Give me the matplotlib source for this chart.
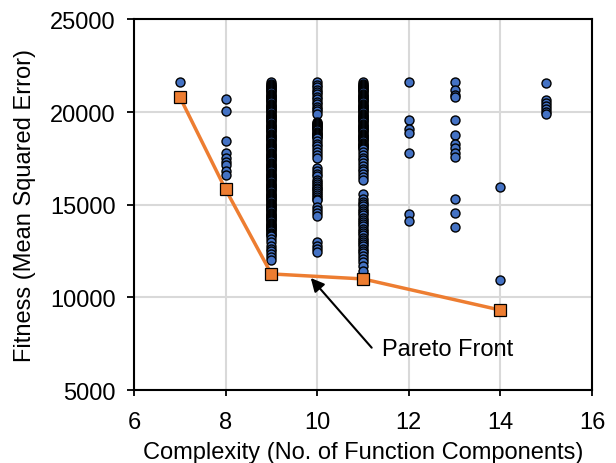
import numpy as np
import matplotlib
matplotlib.use("Agg")
import matplotlib.pyplot as plt

plt.rcParams['font.family'] = ['Liberation Sans', 'DejaVu Sans']

# fitness (MSE) of every candidate, grouped by complexity
mse_c7 = [21650]
mse_c8 = [20700, 20050, 18450, 17800, 17500, 17330, 17120, 16800, 16600]
mse_c9 = [21600, 21540, 21480, 21420, 21360, 21300, 21240, 21180, 21120, 21060,
          21000, 20940, 20880, 20820, 20760, 20700, 20640, 20580, 20520, 20460,
          20400, 20340, 20280, 20220, 20160, 20100, 20040, 19980, 19920, 19860,
          19800, 19740, 19680, 19620, 19560, 19500, 19440, 19380, 19320, 19260,
          19200, 19140, 19080, 19020, 18960, 18900, 18840, 18780, 18720, 18660,
          18600, 18540, 18480, 18420, 18360, 18300, 18240, 18180, 18120, 18060,
          18000, 17940, 17880, 17820, 17760, 17700, 17640, 17580, 17520, 17460,
          17400, 17340, 17280, 17220, 17160, 17100, 17040, 16980, 16920, 16860,
          16800, 16740, 16680, 16620, 16560, 16500, 16440, 16380, 16320, 16260,
          16200, 16140, 16080, 16020, 15960, 15900, 15840, 15780, 15720, 15660,
          15600, 15540, 15480, 15420, 15360, 15300, 15240, 15180, 15120, 15060,
          15000, 14940, 14880, 14820, 14760, 14700, 14640, 14580, 14520, 14460,
          14400, 14340, 14280, 14220, 14160, 14100, 14040, 13980, 13920, 13860,
          13800, 13740, 13680, 13620, 13560, 13500, 13440, 13380, 13320,
          13150, 12980, 12800, 12640, 12480, 12320, 12160, 12000]
mse_c10 = [21600, 21470, 21340, 21210, 21080, 20950, 20820, 20690, 20560, 20430,
           20300, 20170, 20040, 19900, 19490, 19430, 19370, 19310, 19250, 19190,
           19130, 19070, 19010, 18950, 18890, 18830, 18770, 18710, 18650, 18590,
           18450, 18300, 18150, 18000, 17850, 17700, 17550, 16960, 16820, 16680,
           16540, 16330, 16230, 16130, 16030, 15930, 15830, 15730, 15630, 15530,
           15430, 15330, 15240, 14880, 14720, 14560, 14400, 12980, 12800, 12620,
           12450]
mse_c11 = [21600, 21540, 21480, 21420, 21360, 21300, 21240, 21180, 21120, 21060,
           21000, 20940, 20880, 20820, 20760, 20700, 20640, 20580, 20520, 20460,
           20400, 20340, 20280, 20220, 20160, 20100, 20040, 19980, 19920, 19860,
           19800, 19740, 19680, 19620, 19560, 19500, 19440, 19380, 19320, 19260,
           19200, 19140, 19080, 19020, 18960, 18900, 18840, 18780, 18720, 18660,
           18600, 18540, 18480, 18420, 18360, 18300, 18240, 18180, 18120, 18060,
           18000, 17850, 17700, 17550, 17400, 17250, 17100, 16950, 16800, 16650,
           16500, 16350, 15600, 15330, 15150, 15030, 14910, 14790, 14670, 14550,
           14430, 14310, 14190, 14070, 13950, 13830, 13710, 13590, 13470, 13350,
           13230, 13110, 12990, 12870, 12750, 12630, 12510, 12390, 12260, 12100,
           11900, 11680, 11450]
mse_c12 = [21650, 19600, 19080, 18870, 17820, 14480, 14120]
mse_c13 = [21600, 21180, 20940, 20830, 19550, 18770, 18290, 18050, 17780, 17570,
           15310, 14530, 13780]
mse_c14 = [15950, 10950]
mse_c15 = [21550, 20670, 20490, 20310, 20170, 20020, 19900]

pareto_x = [7, 8, 9, 11, 14]
pareto_y = [20820, 15830, 11270, 11000, 9320]

groups = [(7, mse_c7), (8, mse_c8), (9, mse_c9), (10, mse_c10), (11, mse_c11),
          (12, mse_c12), (13, mse_c13), (14, mse_c14), (15, mse_c15)]
xs = np.concatenate([[c] * len(v) for c, v in groups])
ys = np.concatenate([v for c, v in groups])

fig = plt.figure(figsize=(6.16, 4.64), dpi=100)
ax = fig.add_axes([0.2175, 0.157, 0.7435, 0.799])

ax.scatter(xs, ys, s=42, c='#4472C4', edgecolors='black', linewidths=1.0, zorder=3)
ax.plot(pareto_x, pareto_y, color='#ED7D31', lw=2.5, marker='s', ms=8.5,
        mfc='#ED7D31', mec='black', mew=0.9, zorder=4)

# arrow + label
ax.annotate('', xy=(9.86, 11050), xytext=(11.19, 7290),
            arrowprops=dict(arrowstyle='-|>', color='black', lw=1.5,
                            mutation_scale=20, shrinkA=0, shrinkB=0), zorder=5)
ax.text(11.41, 7220, 'Pareto Front', fontsize=17, va='center', ha='left')

ax.set_xlim(6, 16)
ax.set_ylim(5000, 25000)
ax.set_xticks([6, 8, 10, 12, 14, 16])
ax.set_yticks([5000, 10000, 15000, 20000, 25000])
ax.grid(True, color='#D9D9D9', lw=1.5, zorder=0)
ax.set_axisbelow(True)
for sp in ax.spines.values():
    sp.set_linewidth(1.5)
ax.tick_params(axis='x', direction='out', length=4, width=1.3, labelsize=17, pad=11)
ax.tick_params(axis='y', direction='out', length=5, width=1.3, labelsize=17, pad=8)

ax.set_xlabel('Complexity (No. of Function Components)', fontsize=17, labelpad=6)
ax.set_ylabel('Fitness (Mean Squared Error)', fontsize=17, labelpad=10)

fig.savefig('out.png', dpi=100)
